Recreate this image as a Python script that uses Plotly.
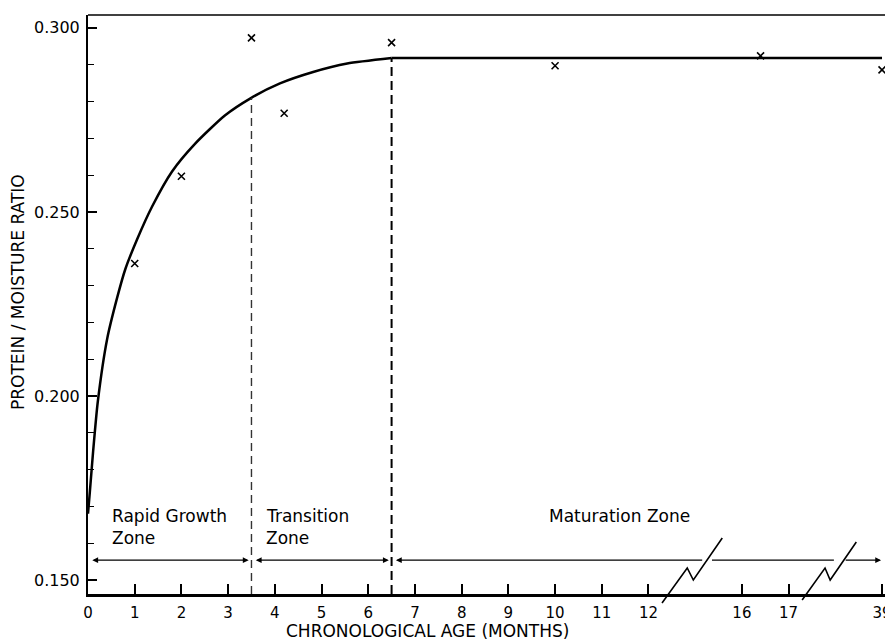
import numpy as np
import plotly.graph_objects as go

# ---------------- data ----------------
# axis break mapping (months -> plotted position)
break_months = [0, 12, 16, 17, 39]
break_pos = [0, 12, 14, 15, 17]
tick_months = [0, 1, 2, 3, 4, 5, 6, 7, 8, 9, 10, 11, 12, 16, 17, 39]
tick_labels = [str(m) for m in tick_months]

# observed points (x marks)
obs_months = [1, 2, 3.5, 4.2, 6.5, 10, 16.4, 39]
obs_ratio = [0.236, 0.2597, 0.2973, 0.2768, 0.2960, 0.2897, 0.2924, 0.2886]

# fitted curve
curve_months = [0, 0.04, 0.11, 0.21, 0.41, 0.62, 0.80, 1.05, 1.37, 1.80, 2.29,
                2.93, 3.47, 4.11, 4.82, 5.55, 6.5]
curve_ratio = [0.168, 0.174, 0.185, 0.1985, 0.2155, 0.2265, 0.2345, 0.2425, 0.2514,
               0.2610, 0.2685, 0.2762, 0.2808, 0.2849, 0.2880, 0.2903, 0.2918]
plateau_months = [6.5, 39]
plateau_ratio = [0.2918, 0.2918]

# zone boundaries
zone_bounds = [3.5, 6.5]


def pos(m):
    return np.interp(m, break_months, break_pos)


FONT = "DejaVu Sans"
fig = go.Figure()

fig.add_trace(go.Scatter(x=pos(curve_months), y=curve_ratio, mode="lines",
                         line=dict(color="black", width=2.5, shape="spline", smoothing=0.6),
                         hoverinfo="skip", showlegend=False))
fig.add_trace(go.Scatter(x=pos(plateau_months), y=plateau_ratio, mode="lines",
                         line=dict(color="black", width=2.5),
                         hoverinfo="skip", showlegend=False))
fig.add_trace(go.Scatter(x=pos(obs_months), y=obs_ratio, mode="markers",
                         marker=dict(symbol="x-thin", size=7, line=dict(color="black", width=1.6)),
                         showlegend=False, cliponaxis=False))

ymin, ymax = 0.1462, 0.3035
# vertical dashed zone lines from curve down to axis
bound_y = np.interp(zone_bounds, curve_months, curve_ratio)
fig.add_shape(type="line", x0=pos(zone_bounds[0]), x1=pos(zone_bounds[0]), y0=ymin, y1=bound_y[0],
              line=dict(color="#333", width=1.4, dash="8px,5px"))
fig.add_shape(type="line", x0=pos(zone_bounds[1]), x1=pos(zone_bounds[1]), y0=ymin, y1=bound_y[1],
              line=dict(color="black", width=2, dash="9px,5px"))

# zone arrows
arrow_y = 0.1554
def arrow(x0, x1, side):
    fig.add_annotation(x=x1, y=arrow_y, ax=x0, ay=arrow_y, xref="x", yref="y", axref="x", ayref="y",
                       text="", showarrow=True, arrowhead=2, arrowsize=0.9, arrowwidth=1.3,
                       arrowside=side, arrowcolor="black", startarrowhead=2, startarrowsize=0.9)

arrow(0.06, 3.44, "end+start")
arrow(3.56, 6.44, "end+start")
arrow(6.56, 13.15, "start")
fig.add_shape(type="line", x0=13.36, x1=15.97, y0=arrow_y, y1=arrow_y, line=dict(color="black", width=1.3))
arrow(16.19, 16.98, "end")

# axis-break zig-zags (xref x, yref paper to allow extending below axis)
def py(p):
    return (594 - p) / (594 - 15)

for xs, ps in [([12.29, 12.83, 12.96, 13.58], [603, 568, 580, 538]),
               ([15.29, 15.78, 15.89, 16.45], [600, 568, 580, 542])]:
    path = "M " + " L ".join(f"{x},{py(p)}" for x, p in zip(xs, ps))
    fig.add_shape(type="path", path=path, xref="x", yref="paper",
                  line=dict(color="black", width=1.6))

# top frame line
fig.add_shape(type="line", xref="paper", yref="paper", x0=0, x1=1, y0=1, y1=1,
              line=dict(color="black", width=1.5))

# zone labels
LF = dict(size=17, family=FONT, color="black")
lab_y1, lab_y2 = 0.1673, 0.1615
fig.add_annotation(x=0.47, y=lab_y1, text="Rapid Growth", xanchor="left", showarrow=False, font=LF)
fig.add_annotation(x=0.47, y=lab_y2, text="Zone", xanchor="left", showarrow=False, font=LF)
fig.add_annotation(x=3.77, y=lab_y1, text="Transition", xanchor="left", showarrow=False, font=LF)
fig.add_annotation(x=3.77, y=lab_y2, text="Zone", xanchor="left", showarrow=False, font=LF)
fig.add_annotation(x=9.83, y=lab_y1, text="Maturation Zone", xanchor="left", showarrow=False, font=LF)

# axis titles
fig.add_annotation(xref="paper", yref="paper", x=(427 - 88) / 797, y=py(631),
                   xanchor="center", yanchor="middle",
                   text="CHRONOLOGICAL AGE (MONTHS)", showarrow=False,
                   font=dict(size=17, family=FONT, color="black"))
fig.add_annotation(xref="paper", yref="paper", x=(18 - 88) / 797, y=py(292),
                   xanchor="center", yanchor="middle",
                   text="PROTEIN / MOISTURE RATIO", textangle=-90, showarrow=False,
                   font=dict(size=17, family=FONT, color="black"))

fig.update_layout(
    width=885, height=640,
    margin=dict(l=88, r=0, t=15, b=46, autoexpand=False),
    plot_bgcolor="white", paper_bgcolor="white",
    font=dict(family=FONT, size=15, color="black"),
    xaxis=dict(range=[0, 17.064], tickvals=pos(tick_months), ticktext=tick_labels,
               ticks="inside", ticklen=10, tickwidth=1.5, tickcolor="black",
               showline=True, linecolor="black", linewidth=2.5, showgrid=False, zeroline=False,
               ticklabelstandoff=3, ticklabeloverflow="allow", automargin=False,
               tickfont=dict(size=15)),
    yaxis=dict(range=[ymin, ymax], tickvals=[0.15, 0.2, 0.25, 0.3], ticktext=["0.150", "0.200", "0.250", "0.300"],
               ticks="inside", ticklen=9, tickwidth=1.5, tickcolor="black",
               minor=dict(ticks="inside", dtick=0.01, tick0=0.15, ticklen=6, tickwidth=1.3, tickcolor="black"),
               showline=True, linecolor="black", linewidth=2, showgrid=False, zeroline=False,
               ticklabelstandoff=3, automargin=False, tickfont=dict(size=16)),
)

fig.write_html("out.html", config={"displayModeBar": False},
               post_script="document.body.style.margin='0';document.body.style.overflow='hidden';")
